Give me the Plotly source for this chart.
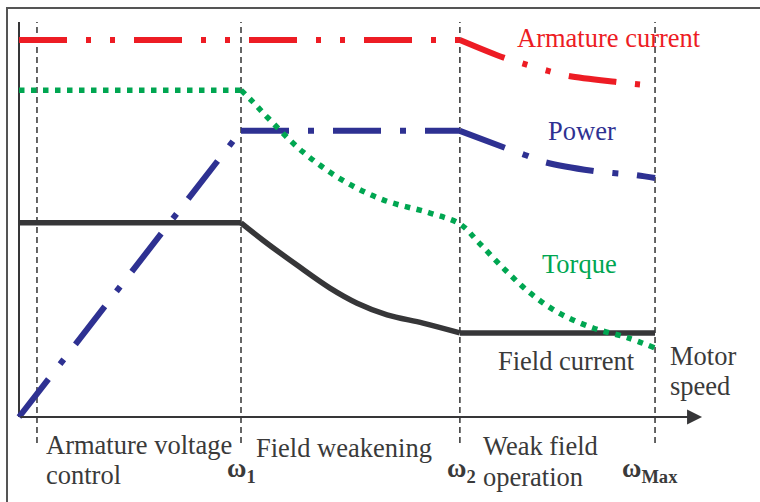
import plotly.graph_objects as go

# ---------------- data (speed in units of omega1, values normalised) ----------------
omega_labels = ["ω<sub>1</sub>", "ω<sub>2</sub>", "ω<sub>Max</sub>"]
omega_pos = [1.0, 1.986, 2.865]
region_start = 0.081

arm_flat_x = [0.0, 1.986]
arm_flat_y = [1.0, 1.0]
arm_drop_x = [1.986, 2.189, 2.279, 2.383, 2.473, 2.685, 2.82]
arm_drop_y = [1.0, 0.952, 0.936, 0.918, 0.905, 0.889, 0.881]

pow_rise_x = [0.0, 1.0]
pow_rise_y = [0.0, 0.759]
pow_flat_x = [1.0, 1.986]
pow_flat_y = [0.759, 0.759]
pow_drop_x = [1.986, 2.189, 2.279, 2.369, 2.581, 2.676, 2.775, 2.865]
pow_drop_y = [0.759, 0.714, 0.695, 0.676, 0.653, 0.647, 0.642, 0.634]

torque_x = [0.0, 1.0, 1.05, 1.122, 1.279, 1.455, 1.64, 1.851, 1.986, 2.072, 2.185,
            2.302, 2.432, 2.586, 2.743, 2.865]
torque_y = [0.867, 0.867, 0.838, 0.793, 0.703, 0.629, 0.576, 0.541, 0.512, 0.462,
            0.393, 0.329, 0.276, 0.236, 0.21, 0.183]

field_x = [0.0, 1.0, 1.099, 1.252, 1.401, 1.523, 1.658, 1.82, 1.986, 2.865]
field_y = [0.515, 0.515, 0.469, 0.403, 0.342, 0.302, 0.271, 0.249, 0.223, 0.223]

axis_x_end = 3.077
axis_y_end = 1.048
guide_bottom = -0.069

# ---------------- styles ----------------
RED = "#ed1c24"
BLUE = "#2e3192"
GREEN = "#00a651"
DARK = "#363638"
TXT = "#3a3a3a"
FONT = "Liberation Serif"
FS = 26.5

fig = go.Figure()

# vertical dashed guides
for xv in [region_start] + omega_pos:
    fig.add_trace(go.Scatter(x=[xv, xv], y=[guide_bottom, axis_y_end], mode="lines",
                             line=dict(color="#333333", width=1.5, dash="6px,4px"),
                             hoverinfo="skip"))

# y axis line
fig.add_trace(go.Scatter(x=[0, 0], y=[0, axis_y_end], mode="lines",
                         line=dict(color=DARK, width=2), hoverinfo="skip"))

blue_dash = "48px,19px,6px,19px"
for xs, ys, shp in [(pow_rise_x, pow_rise_y, "linear"), (pow_flat_x, pow_flat_y, "linear"),
                    (pow_drop_x, pow_drop_y, "spline")]:
    fig.add_trace(go.Scatter(x=xs, y=ys, mode="lines",
                             line=dict(color=BLUE, width=6, dash=blue_dash, shape=shp),
                             name="Power"))

for sl, shp in [(slice(0, 2), "linear"), (slice(1, 9), "spline"), (slice(8, None), "linear")]:
    fig.add_trace(go.Scatter(x=field_x[sl], y=field_y[sl], mode="lines",
                             line=dict(color=DARK, width=5.5, shape=shp),
                             name="Field current"))

red_dash = "48px,19px,5px,19px,5px,19px"
for xs, ys, shp in [(arm_flat_x, arm_flat_y, "linear"), (arm_drop_x, arm_drop_y, "spline")]:
    fig.add_trace(go.Scatter(x=xs, y=ys, mode="lines",
                             line=dict(color=RED, width=6, dash=red_dash, shape=shp),
                             name="Armature current"))

for sl, shp in [(slice(0, 2), "linear"), (slice(1, None), "spline")]:
    fig.add_trace(go.Scatter(x=torque_x[sl], y=torque_y[sl], mode="lines",
                             line=dict(color=GREEN, width=5.5, dash="5.5px,6.5px", shape=shp),
                             name="Torque"))

annotations = []
# x axis with arrow
annotations.append(dict(x=axis_x_end, y=0, ax=0, ay=0, xref="x", yref="y", axref="x",
                        ayref="y", text="", showarrow=True, arrowhead=2, arrowsize=1.5,
                        arrowwidth=2, arrowcolor=DARK))


def label(text, xpx, ypx, color=TXT, size=FS):
    annotations.append(dict(x=(xpx - 19) / 222, y=(417 - ypx) / 377, xref="x", yref="y",
                            text=text, showarrow=False, xanchor="left", yanchor="middle",
                            font=dict(family=FONT, size=size, color=color)))


label("Armature current", 515, 38, RED)
label("Power", 546, 131, BLUE)
label("Torque", 540, 264, GREEN)
label("Field current", 496, 361)
label("Motor", 668, 356)
label("speed", 668, 386)
label("Armature voltage", 44, 445)
label("control", 44, 475)
label("Field weakening", 254, 448)
label("Weak field", 481, 446)
label("operation", 481, 477)

for txt, xv, sh in zip(omega_labels, omega_pos, [0, 2, -5]):
    annotations.append(dict(x=xv, y=(417 - 470) / 377, xref="x", yref="y",
                            text="<b>" + txt + "</b>", showarrow=False, xanchor="center",
                            yanchor="middle", xshift=sh,
                            font=dict(family=FONT, size=FS, color=TXT)))

fig.update_layout(
    width=760, height=502, margin=dict(l=0, r=0, t=0, b=0),
    paper_bgcolor="white", plot_bgcolor="white", showlegend=False,
    xaxis=dict(visible=False, range=[-19 / 222, 741 / 222], fixedrange=True),
    yaxis=dict(visible=False, range=[-85 / 377, 417 / 377], fixedrange=True),
    annotations=annotations,
    shapes=[dict(type="rect", xref="paper", yref="paper", x0=7 / 760, x1=1.05,
                 y0=-0.05, y1=1 - 8 / 502, line=dict(color="#555555", width=2))],
)

fig.write_html("out.html")
